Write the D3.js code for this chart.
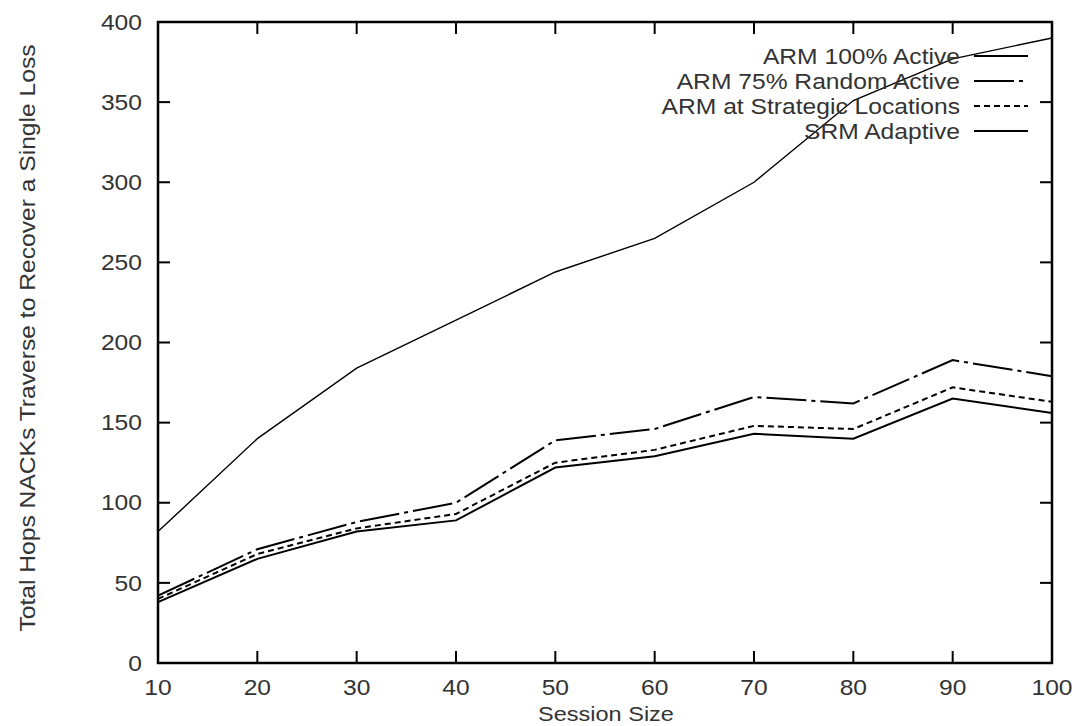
<!DOCTYPE html>
<html><head><meta charset="utf-8">
<script src="https://cdn.jsdelivr.net/npm/d3@7"></script>
<style>body{margin:0;background:#fff}svg{display:block}text{font-family:"Liberation Sans",Arial,sans-serif;fill:#333}</style>
</head><body>
<svg id="c" width="1076" height="726"></svg>
<script>
const sessionSizes = [10,20,30,40,50,60,70,80,90,100];
const arm100 = [82,140,184,214,244,265,300,351,377,390];
const arm75 = [42,71,88,100,139,146,166,162,189,179];
const armStrategic = [40,68,84,93,125,133,148,146,172,163];
const srmAdaptive = [38,65,82,89,122,129,143,140,165,156];
const seriesNames = ["ARM 100% Active","ARM 75% Random Active","ARM at Strategic Locations","SRM Adaptive"];
const xTicks = [10,20,30,40,50,60,70,80,90,100];
const yTicks = [0,50,100,150,200,250,300,350,400];

const svg = d3.select("#c");
const L=158,R=1052,T=22,B=663;
const x = d3.scaleLinear().domain([10,100]).range([L,R]);
const y = d3.scaleLinear().domain([0,400]).range([B,T]);
const SX = 1.12, FS = 22;

const series = [
  {name:seriesNames[0], vals:arm100, dash:null, w:1.4},
  {name:seriesNames[1], vals:arm75, dash:"40,5,4,5", w:2},
  {name:seriesNames[2], vals:armStrategic, dash:"6,4", w:2},
  {name:seriesNames[3], vals:srmAdaptive, dash:null, w:2}
];

function stretchedText(parent, tx, ty, str, anchor, fs, rot){
  const gg = parent.append("g").attr("transform",`translate(${tx},${ty})${rot?` rotate(${rot})`:""} scale(${SX},1)`);
  gg.append("text").attr("x",0).attr("y",0).attr("dy","0.35em").attr("text-anchor",anchor)
    .attr("font-size",fs).text(str);
  return gg;
}

const g = svg.append("g");
const tickLen = 12;
g.selectAll(".yl").data(yTicks).enter().append("line")
  .attr("x1",L).attr("x2",L+tickLen).attr("y1",d=>y(d)).attr("y2",d=>y(d)).attr("stroke","#000").attr("stroke-width",2);
g.selectAll(".yr").data(yTicks).enter().append("line")
  .attr("x1",R).attr("x2",R-tickLen).attr("y1",d=>y(d)).attr("y2",d=>y(d)).attr("stroke","#000").attr("stroke-width",2);
g.selectAll(".xb").data(xTicks).enter().append("line")
  .attr("x1",d=>x(d)).attr("x2",d=>x(d)).attr("y1",B).attr("y2",B-tickLen).attr("stroke","#000").attr("stroke-width",2);
g.selectAll(".xt").data(xTicks).enter().append("line")
  .attr("x1",d=>x(d)).attr("x2",d=>x(d)).attr("y1",T).attr("y2",T+tickLen).attr("stroke","#000").attr("stroke-width",2);

yTicks.forEach(d=>stretchedText(g, L-16, y(d), d, "end", FS));
xTicks.forEach(d=>stretchedText(g, x(d), B+24, d, "middle", FS));

svg.append("rect").attr("x",L).attr("y",T).attr("width",R-L).attr("height",B-T)
  .attr("fill","none").attr("stroke","#000").attr("stroke-width",2.5);

const line = d3.line().x((d,i)=>x(sessionSizes[i])).y(d=>y(d));
series.forEach(s=>{
  svg.append("path").attr("d",line(s.vals)).attr("fill","none").attr("stroke","#000")
    .attr("stroke-width",s.w).attr("stroke-dasharray",s.dash);
});

series.forEach((s,i)=>{
  const yy = 56 + i*25;
  stretchedText(svg, 960, yy, s.name, "end", FS);
  svg.append("line").attr("x1",974).attr("x2",1028).attr("y1",yy).attr("y2",yy)
    .attr("stroke","#000").attr("stroke-width",2).attr("stroke-dasharray",s.dash);
});

stretchedText(svg, 606, 714, "Session Size", "middle", 21);
stretchedText(svg, 27, 338, "Total Hops NACKs Traverse to Recover a Single Loss", "middle", FS, -90);
</script>
</body></html>
